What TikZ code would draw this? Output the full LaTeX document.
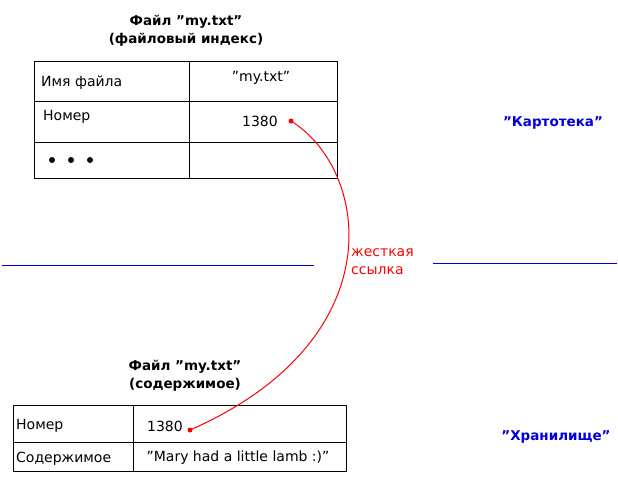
\documentclass[tikz,border=0pt]{standalone}
\usepackage{fontspec}
\setmainfont{DejaVu Sans}[Ligatures=ResetAll]
\definecolor{linkred}{HTML}{FF0000}
\definecolor{zoneblue}{HTML}{0000DD}
\newcommand{\qq}{\char"0022\relax}
\tikzset{
  cell/.style = {font=\fontsize{14}{16}\selectfont, inner sep=0pt},
  title/.style = {font=\bfseries\fontsize{13.5}{16}\selectfont, inner sep=0pt},
  zone/.style = {font=\bfseries\fontsize{13.5}{16}\selectfont, text=zoneblue, inner sep=0pt},
  linkdot/.style = {circle, fill=linkred, inner sep=0pt, minimum size=5pt}
}
\begin{document}
\begin{tikzpicture}[x=1pt, y=-1pt]
      \useasboundingbox (0, 0) rectangle (618, 477);

      % top table: file index
      \draw (34, 61) rectangle (337, 178);
      \draw (34, 101) -- (337, 101);
      \draw (34, 142) -- (337, 142);
      \draw (189, 61) -- (189, 178);
      \node[title] (ttitle1) at (186, 22) {Файл \qq my.txt\qq};
      \node[title] (ttitle2) at (186, 40) {(файловый индекс)};
      \node[cell, anchor=west] (tname) at (41, 83) {Имя файла};
      \node[cell] (tfile) at (261, 78) {\qq my.txt\qq};
      \node[cell, anchor=west] (tnum) at (43, 117) {Номер};
      \node[cell] (tval) at (260, 121) {1380};
      \foreach \i in {0, 1, 2} {\fill (52 + \i*19, 160) circle (3pt);}
      \node[linkdot] (topdot) at (291, 121) {};

      % bottom table: contents
      \draw (13, 405) rectangle (346, 471);
      \draw (13, 442) -- (346, 442);
      \draw (133, 405) -- (133, 471);
      \node[title] (btitle1) at (185, 367) {Файл \qq my.txt\qq};
      \node[title] (btitle2) at (185, 385) {(содержимое)};
      \node[cell, anchor=west] (bnum) at (16, 426) {Номер};
      \node[cell] (bval) at (165, 426) {1380};
      \node[cell, anchor=west] (bcont) at (16, 459) {Содержимое};
      \node[cell] (bdata) at (238, 458) {\qq Mary had a little lamb :)\qq};
      \node[linkdot] (botdot) at (190, 430) {};

      % separator and zones
      \coordinate (sepa) at (2, 265);
      \coordinate (sepb) at (314, 265);
      \coordinate (sepc) at (433, 263);
      \coordinate (sepd) at (617, 263);
      \draw[draw=zoneblue, line width=1pt] (sepa) -- (sepb);
      \draw[draw=zoneblue, line width=1pt] (sepc) -- (sepd);
      \node[zone] (index) at (553, 123) {\qq Картотека\qq};
      \node[zone] (store) at (556, 437) {\qq Хранилище\qq};

      % hard link
      \draw[draw=linkred, line width=1pt] (topdot.center) .. controls (370, 170) and (395, 340) .. (botdot.center);
      \node[cell, text=linkred, anchor=west] (link1) at (351, 253) {жесткая};
      \node[cell, text=linkred, anchor=west] (link2) at (351, 271) {ссылка};
\end{tikzpicture}
\end{document}
